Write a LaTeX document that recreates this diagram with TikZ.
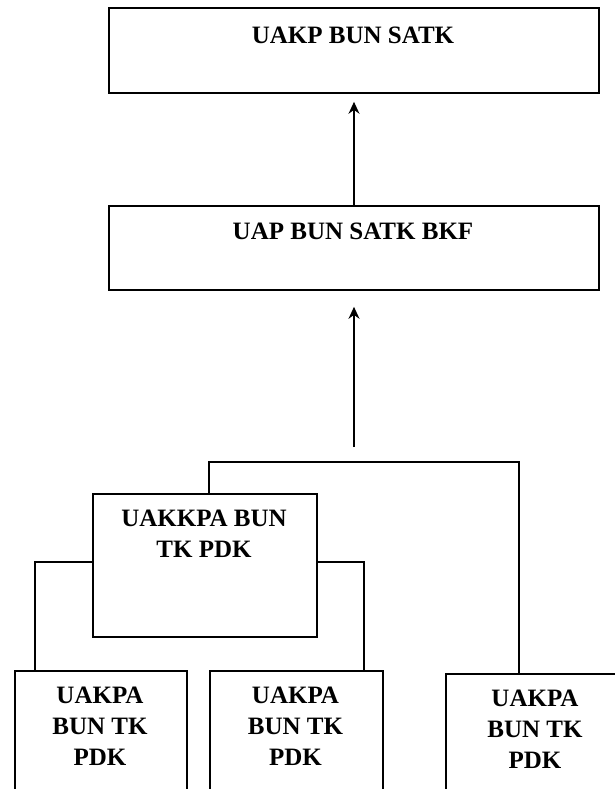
\documentclass[tikz,border=0pt]{standalone}
\usepackage{fontspec}
\setmainfont{Liberation Serif}
\usetikzlibrary{arrows.meta}

\tikzset{
  box/.style={draw, rectangle, line width=1.8pt, inner sep=0pt, anchor=north west},
  txt/.style={font=\fontsize{25}{31}\selectfont\bfseries, align=center, inner sep=0pt, anchor=north},
  link/.style={line width=1.6pt},
  up/.style={line width=1.6pt, -{Stealth[length=12pt,width=11pt]}},
}

\begin{document}
\begin{tikzpicture}[x=1pt,y=-1pt]
      \useasboundingbox (0,0) rectangle (614,789);
      % boxes
      \node[box, minimum width=490pt, minimum height=85pt] (uakp) at (108,7) {};
      \node[box, minimum width=490pt, minimum height=84pt] (uap) at (108,205) {};
      \node[box, minimum width=224pt, minimum height=143pt] (uakkpa) at (92,493) {};
      \node[box, minimum width=172pt, minimum height=140pt] (pa1) at (14,670) {};
      \node[box, minimum width=173pt, minimum height=140pt] (pa2) at (209,670) {};
      \node[box, minimum width=180pt, minimum height=140pt] (pa3) at (445,673) {};
      % texts
      \node[txt] (uakp-t) at (353,27) {UAKP BUN SATK};
      \node[txt] (uap-t) at (353,223) {UAP BUN SATK BKF};
      \node[txt] (uakkpa-t) at (204,510) {UAKKPA BUN\\TK PDK};
      \node[txt] (pa1-t) at (100,687) {UAKPA\\BUN TK\\PDK};
      \node[txt] (pa2-t) at (295.5,687) {UAKPA\\BUN TK\\PDK};
      \node[txt] (pa3-t) at (535,690) {UAKPA\\BUN TK\\PDK};
      % connectors
      \coordinate (hub) at (354,447);
      \coordinate (bar-l) at (209,462);
      \coordinate (bar-r) at (519,462);
      \coordinate (sl) at (35,562);
      \coordinate (sr) at (364,562);
      \draw[up, shorten >=8pt] (uap.north -| hub) to (uakp.south -| hub);
      \draw[up, shorten >=16pt] (hub) to (uap.south -| hub);
      \draw[link] (uakkpa.north -| bar-l) -- (bar-l) -- (bar-r) -- (pa3.north -| bar-r);
      \draw[link] (uakkpa.west |- sl) -- (sl) -- (sl |- pa1.north);
      \draw[link] (uakkpa.east |- sr) -- (sr) -- (sr |- pa2.north);
    \end{tikzpicture}
\end{document}
